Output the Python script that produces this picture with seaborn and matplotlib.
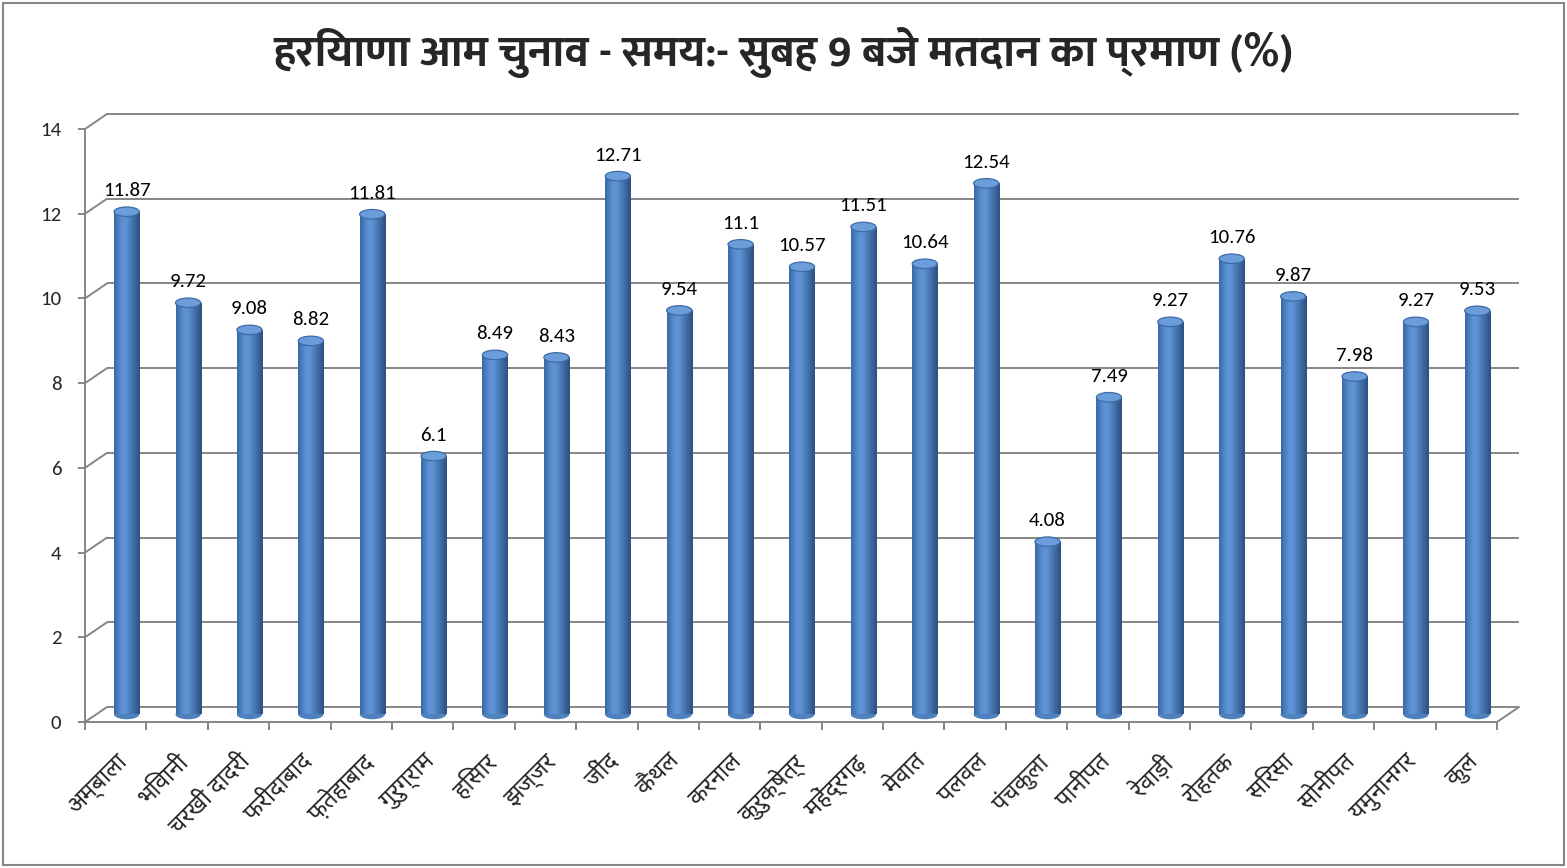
import numpy as np
import matplotlib
matplotlib.use("Agg")
import matplotlib.pyplot as plt
from matplotlib.colors import LinearSegmentedColormap
from matplotlib.patches import Ellipse, Rectangle
from matplotlib.lines import Line2D
import seaborn as sns

districts = ["अम्बाला", "भिवानी", "चरखी दादरी", "फरीदाबाद", "फ़तेहाबाद", "गुरुग्राम",
             "हिसार", "झज्जर", "जींद", "कैथल", "करनाल", "कुरुक्षेत्र", "महेंद्रगढ़",
             "मेवात", "पलवल", "पंचकुला", "पानीपत", "रेवाड़ी", "रोहतक", "सिरसा",
             "सोनीपत", "यमुनानगर", "कुल"]
values = [11.87, 9.72, 9.08, 8.82, 11.81, 6.1, 8.49, 8.43, 12.71, 9.54, 11.1, 10.57,
          11.51, 10.64, 12.54, 4.08, 7.49, 9.27, 10.76, 9.87, 7.98, 9.27, 9.53]
yticks = [0, 2, 4, 6, 8, 10, 12, 14]
title = "हरियाणा आम चुनाव - समय:- सुबह 9 बजे मतदान का प्रमाण (%)"

sns.set_theme(style="white")
deva = ["Noto Sans Devanagari", "Mukta", "Hind", "FreeSans", "DejaVu Sans"]
deva_bold = ["Ek Mukta", "FreeSans", "Noto Sans Devanagari", "DejaVu Sans"]
nums = ["Carlito", "Lato", "DejaVu Sans"]
plt.rcParams["font.family"] = deva

W, H = 1567, 868
fig = plt.figure(figsize=(W / 100, H / 100), dpi=100)
fig.patch.set_facecolor("white")

GRID = "#868686"
DX, DY = 11, 7.5  # depth offset (px) between mid plane and front/back planes

def pos(dx, dy):
    left, right, top, bottom = 96, 1508, 121.5, 714.5
    return [(left + dx) / W, (H - bottom + dy) / H, (right - left) / W, (bottom - top) / H]

ax_back = fig.add_axes(pos(DX, DY), zorder=0)
ax_mid = fig.add_axes(pos(0, 0), zorder=2)
ax_front = fig.add_axes(pos(-DX, -DY), zorder=1)
n = len(districts)
for a in (ax_back, ax_mid, ax_front):
    a.set_xlim(-0.5, n - 0.5)
    a.set_ylim(0, 14)
    a.patch.set_alpha(0)

# back wall gridlines
ax_back.axis("off")
ax_back.hlines(yticks, -0.5, n - 0.5, color=GRID, lw=1.4, clip_on=False)

# diagonals (left wall + right floor edge)
inv = fig.transFigure.inverted()
def diag(xv, yv):
    p0 = inv.transform(ax_front.transData.transform((xv, yv)))
    p1 = inv.transform(ax_back.transData.transform((xv, yv)))
    fig.add_artist(Line2D([p0[0], p1[0]], [p0[1], p1[1]], color=GRID, lw=1.4))
for v in yticks:
    diag(-0.5, v)
diag(n - 0.5, 0)

# front axes: y axis, floor front edge, ticks & labels
for s in ("top", "right"):
    ax_front.spines[s].set_visible(False)
for s in ("left", "bottom"):
    ax_front.spines[s].set_color(GRID)
    ax_front.spines[s].set_linewidth(1.4)
ax_front.set_yticks(yticks)
ax_front.set_yticklabels([str(v) for v in yticks], family=nums, fontsize=15)
ax_front.tick_params(axis="y", length=5, width=1.4, color=GRID, pad=12, left=True)
ax_front.set_xticks(range(n))
ax_front.set_xticklabels(districts, rotation=45, ha="right", rotation_mode="anchor",
                         fontsize=17, family=deva)
ax_front.tick_params(axis="x", which="major", length=0, pad=20)
ax_front.set_xticks(np.arange(-0.5, n, 1), minor=True)
ax_front.tick_params(axis="x", which="minor", length=6, width=1.4, color=GRID, bottom=True)

# bars (mid plane)
sns.barplot(x=districts, y=values, color="#4F81BD", saturation=1, width=0.41,
            ax=ax_mid, zorder=2)
ax_mid.axis("off")
ax_mid.set_xlim(-0.5, n - 0.5)
ax_mid.set_ylim(0, 14)

cyl = LinearSegmentedColormap.from_list(
    "cyl", [(0, "#3A68A4"), (0.3, "#5C92D4"), (0.45, "#5E94D6"), (1, "#2B4F80")])
grad = np.linspace(0, 1, 256).reshape(1, -1)
px_per_unit = (714.5 - 121.5) / 14
eh = 9.5 / px_per_unit
for p, v in zip(list(ax_mid.patches), values):
    x0, w, h = p.get_x(), p.get_width(), p.get_height()
    xc = x0 + w / 2
    p.set_edgecolor("none")
    im = ax_mid.imshow(grad, extent=[x0, x0 + w, 0, h], aspect="auto", cmap=cyl,
                       zorder=3, interpolation="bilinear")
    im.set_clip_path(p)
    bot = Ellipse((xc, 0), w, eh, facecolor="#4F81BD", edgecolor="none", zorder=2,
                  clip_on=False)
    ax_mid.add_patch(bot)
    im2 = ax_mid.imshow(grad, extent=[x0, x0 + w, -eh, eh], aspect="auto", cmap=cyl,
                        zorder=3, interpolation="bilinear")
    im2.set_clip_path(bot)
    top = Ellipse((xc, h), w, eh, facecolor="#6B9DDA", edgecolor="#3D6BA6", lw=0.9,
                  zorder=4, clip_on=False)
    ax_mid.add_patch(top)
    ax_mid.annotate(f"{v:g}", (xc, h), xytext=(0, 9), textcoords="offset points",
                    ha="center", va="bottom", fontsize=15, family=nums, color="black",
                    zorder=5, annotation_clip=False)
ax_mid.set_xlim(-0.5, n - 0.5)
ax_mid.set_ylim(0, 14)

fig.text(0.5, 1 - 52 / H, title, ha="center", va="center", fontsize=32,
         fontweight="bold", family=deva_bold)

# outer chart border
fig.add_artist(Rectangle((3 / W, 3 / H), 1 - 6 / W, 1 - 6 / H, transform=fig.transFigure,
                         fill=False, edgecolor=GRID, lw=1.5))

fig.savefig("out.png", dpi=100, facecolor="white")
